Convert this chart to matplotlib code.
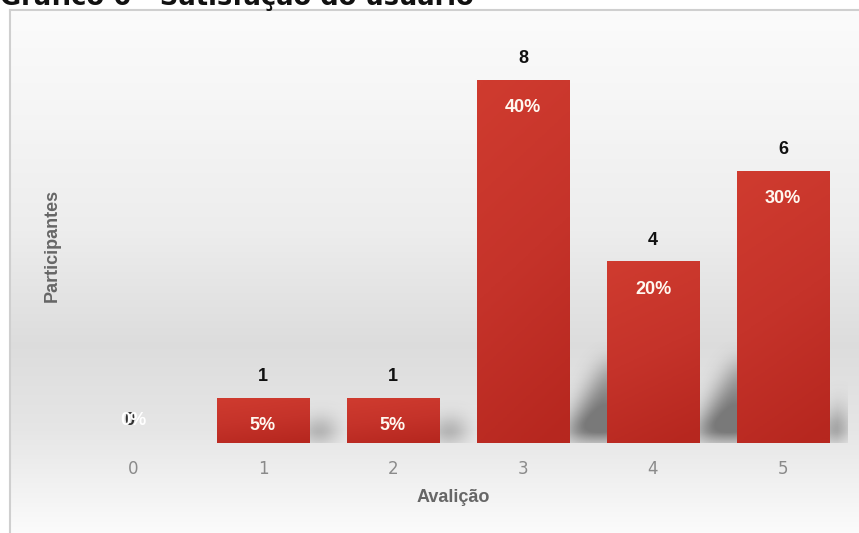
import matplotlib
matplotlib.use("Agg")
import matplotlib.pyplot as plt
import numpy as np
from matplotlib.colors import LinearSegmentedColormap

# dados do gráfico
avaliacoes = ['0', '1', '2', '3', '4', '5']
participantes = [0, 1, 1, 8, 4, 6]
percentuais = ['0%', '5%', '5%', '40%', '20%', '30%']

titulo = 'Gráfico 6 - Satisfação do usuário'
xlabel = 'Avalição'
ylabel = 'Participantes'

W, H = 859, 533
fig = plt.figure(figsize=(W / 100, H / 100), dpi=100)
fig.patch.set_facecolor('white')

narrow = ['Liberation Sans Narrow', 'Liberation Sans', 'DejaVu Sans']

# painel com fundo em degradê
bg = fig.add_axes([10 / W, 0, (W - 10) / W, (H - 10) / H])
bg.set_axis_off()
ys = np.array([0.0, 0.17, 0.42, 0.64, 0.80, 1.0])  # de cima para baixo
cs = np.array([0.985, 0.965, 0.93, 0.865, 0.90, 0.985])
grad = np.interp(np.linspace(0, 1, 400), ys, cs)
img = np.repeat(grad[:, None, None], 3, axis=2).repeat(2, axis=1)
bg.imshow(img, aspect='auto', extent=[0, 1, 0, 1], origin='upper')
bg.set_xlim(0, 1)
bg.set_ylim(0, 1)
bg.plot([0, 0], [0, 1], color='#cfcfcf', lw=1.5, clip_on=False)
bg.plot([0, 1], [1, 1], color='#cfcfcf', lw=1.5, clip_on=False)

# eixo principal
ax = fig.add_axes([68 / W, (H - 443) / H, 780 / W, 423 / H])
ax.set_facecolor('none')
x = np.arange(len(avaliacoes))
largura = 0.71
ax.set_xlim(-0.5, 5.5)
ax.set_ylim(0, 9.32)

# sombras borradas atrás das barras (projetadas para cima e à direita)
nx, ny = 780, 423
gx = np.linspace(-0.5, 5.5, nx)
gy = np.linspace(0, 9.32, ny)
GX, GY = np.meshgrid(gx, gy)
mask = np.zeros_like(GX)
for xi, h in zip(x, participantes):
    if h <= 0:
        continue
    hs = min(0.45 * h, 1.8)
    xr = xi + largura / 2
    t = GY / hs
    left = xr - 0.05 + 0.32 * GY / 1.75
    right = xr + 0.08 + 0.35 * hs / 1.75
    inside = (GY >= -0.3) & (GY <= hs) & (GX >= left) & (GX <= right)
    val = np.where(inside, 1.0 - 0.55 * np.clip(t, 0, 1), 0.0)
    mask = np.maximum(mask, val)
k = np.ones(21) / 21
for _ in range(3):
    mask = np.apply_along_axis(lambda r: np.convolve(r, k, mode='same'), 1, mask)
    mask = np.apply_along_axis(lambda c: np.convolve(c, k, mode='same'), 0, mask)
sombra = np.zeros((ny, nx, 4))
sombra[..., :3] = 0.25
sombra[..., 3] = np.clip(mask * 0.9, 0, 0.65)
ax.imshow(sombra, extent=[-0.5, 5.5, 0, 9.32], origin='lower', aspect='auto',
          zorder=1, interpolation='bilinear')

# barras
cmap = LinearSegmentedColormap.from_list('verm', ['#b6271f', '#c5332a', '#cf3b2f'])
barras = ax.bar(x, participantes, width=largura, color='#c5332a', zorder=2,
                edgecolor='none')
for b in barras:
    if b.get_height() <= 0:
        continue
    x0, w, h = b.get_x(), b.get_width(), b.get_height()
    vert = np.linspace(0, 1, 100)[:, None]
    horiz = np.linspace(0.12, -0.08, 40)[None, :]
    g = np.clip(vert * 0.85 + horiz + 0.05, 0, 1)
    im = ax.imshow(g, cmap=cmap, extent=[x0, x0 + w, 0, h], origin='lower',
                   aspect='auto', zorder=3, vmin=0, vmax=1)
    im.set_clip_path(b)

# rótulos
for xi, v, p in zip(x, participantes, percentuais):
    if v > 0:
        ax.text(xi, v + 0.28, str(v), ha='center', va='bottom', fontsize=13,
                fontweight='bold', color='#111111', family=narrow, zorder=5)
        ax.text(xi, v - 0.42, p, ha='center', va='top', fontsize=13,
                fontweight='bold', color='#fff8f0', family=narrow, zorder=5)
    else:
        ax.text(xi, 0.5, p, ha='center', va='center', fontsize=13,
                fontweight='bold', color='white', family=narrow, zorder=5)
        ax.text(xi - 0.03, 0.5, str(v), ha='center', va='center', fontsize=13,
                fontweight='bold', color='#111111', family=narrow, zorder=4,
                alpha=0.85)

ax.set_xticks(x)
ax.set_xticklabels(avaliacoes, fontsize=12, color='#8a8a8a')
ax.tick_params(axis='x', length=0, pad=12)
ax.set_yticks([])
for s in ax.spines.values():
    s.set_visible(False)

fig.text((68 + 780 / 2 - 5) / W, 1 - 497 / H, xlabel, ha='center', va='center',
         fontsize=13, fontweight='bold', color='#666666', family=narrow)
fig.text(52 / W, 1 - 245 / H, ylabel, ha='center', va='center', rotation=90,
         fontsize=13, fontweight='bold', color='#666666', family=narrow)

# título cortado no topo
fig.text(0, 1 - 5 / H, titulo, ha='left', va='baseline', fontsize=18.5,
         fontweight='bold', color='#111111')

fig.savefig('out.png', dpi=100, facecolor='white')
